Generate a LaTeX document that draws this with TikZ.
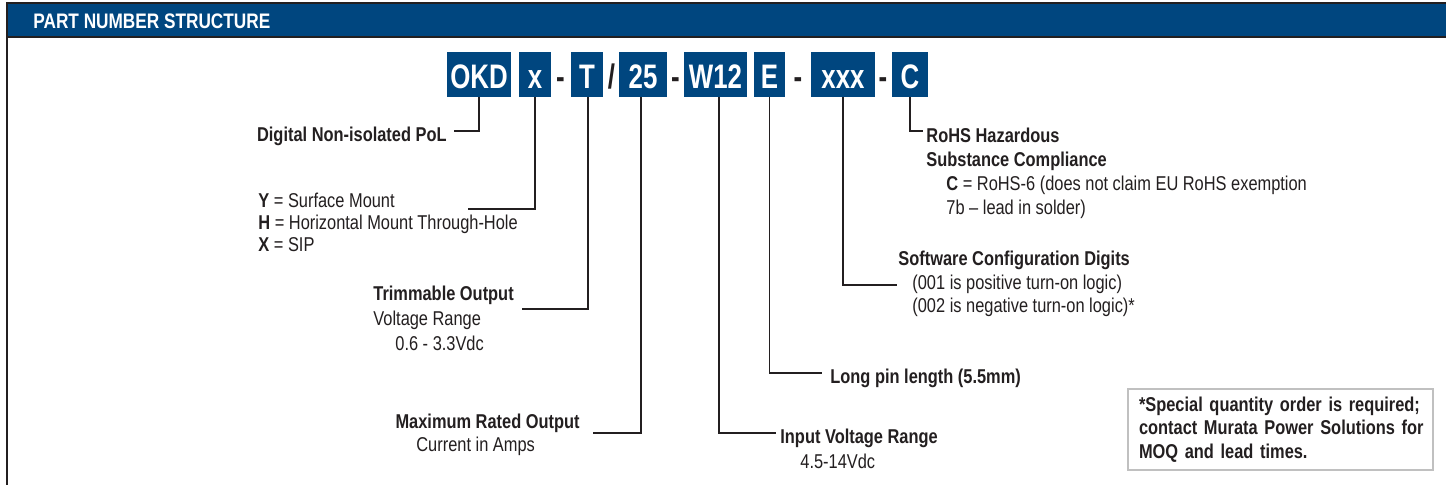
\documentclass[tikz,border=0pt]{standalone}
\usepackage{fontspec}
\setmainfont[FakeStretch=0.82]{Liberation Sans}
\newfontfamily\boxfont[FakeStretch=0.76]{Liberation Sans}
\definecolor{mblue}{RGB}{0,70,127}
\definecolor{ink}{RGB}{35,31,32}
\definecolor{notegray}{RGB}{192,192,192}
\hbadness=10000
\hfuzz=50pt
\begin{document}
\begin{tikzpicture}[x=0.5pt,y=-0.5pt,
  pbox/.style={fill=mblue,text=white,font=\boxfont\bfseries\fontsize{17}{17}\selectfont,
    inner sep=0pt,minimum height=22.5pt,text height=14pt,text depth=0pt},
  sepch/.style={text=ink,font=\boxfont\bfseries\fontsize{17}{17}\selectfont,
    inner sep=0pt,text height=14pt,text depth=0pt},
  lbl/.style={text=ink,font=\fontsize{10}{12}\selectfont,inner sep=0pt,
    text height=7.2pt,text depth=0pt,anchor=west},
  blbl/.style={lbl,font=\bfseries\fontsize{10}{12}\selectfont},
  thickc/.style={draw=ink,line width=1pt},
  thinc/.style={draw=ink,line width=0.55pt},
  framel/.style={draw=ink,line width=1pt},
]
\useasboundingbox (0,0) rectangle (1446,485);
\fill[white] (0,0) rectangle (1446,485);
% header band and frame
\fill[mblue] (7,3) rectangle (1446,37);
\draw[framel] (1446,3) -- (7,3) -- (7,485);
\draw[framel] (7,37) -- (1446,37);
\node[text=white,font=\bfseries\fontsize{10.5}{12}\selectfont,anchor=west,inner sep=0pt,
  text height=7.5pt,text depth=0pt] (hdr) at (33,21.5) {PART NUMBER STRUCTURE};

% part number boxes
\node[pbox,minimum width=32pt]   (okd) at (479,74.5)   {OKD};
\node[pbox,minimum width=16pt]   (xb)  at (535,74.5)   {x};
\node[sepch]                     (s1)  at (560.5,74.5) {-};
\node[pbox,minimum width=16pt]   (tb)  at (587,74.5)   {T};
\node[sepch]                     (s2)  at (611.5,74.5) {/};
\node[pbox,minimum width=24pt]   (b25) at (643,74.5)   {25};
\node[sepch]                     (s3)  at (675.5,74.5) {-};
\node[pbox,minimum width=31.5pt] (w12) at (715.5,74.5) {W12};
\node[pbox,minimum width=15.5pt] (eb)  at (769.5,74.5) {E};
\node[sepch]                     (s4)  at (798,74.5)   {-};
\node[pbox,minimum width=32pt]   (xxx) at (843,74.5)   {xxx};
\node[sepch]                     (s5)  at (883,74.5)   {-};
\node[pbox,minimum width=18pt]   (cb)  at (910,74.5)   {C};

% connector ends
\coordinate (e1) at (454,131);
\coordinate (e2) at (468,209);
\coordinate (e3) at (522,309);
\coordinate (e4) at (593,433);
\coordinate (e5) at (776,433);
\coordinate (e6) at (822,373);
\coordinate (e7) at (897,285);
\coordinate (e8) at (923,131);

\draw[thickc] (okd.south) |- (e1);
\draw[thickc] (xb.south) |- (e2);
\draw[thickc] ([xshift=0.5pt]tb.south) |- (e3);
\draw[thinc] ([xshift=-1pt]b25.south) |- (e4);
\draw[thinc] ([xshift=1.75pt]w12.south) |- (e5);
\draw[thinc] (eb.south) |- (e6);
\draw[thinc] (xxx.south) |- (e7);
\draw[thinc] (cb.south) |- (e8);

% labels
\node[blbl,anchor=east] (l1) at (447,134) {Digital Non-isolated PoL};

\node[lbl] (l2a) at (258,200) {\textbf{Y} = Surface Mount};
\node[lbl] (l2b) at (258,222) {\textbf{H} = Horizontal Mount Through-Hole};
\node[lbl] (l2c) at (258,244) {\textbf{X} = SIP};

\node[blbl] (l3a) at (373,293) {Trimmable Output};
\node[lbl]  (l3b) at (373,318) {Voltage Range};
\node[lbl]  (l3c) at (395,343) {0.6 - 3.3Vdc};

\node[blbl,anchor=east] (l4a) at (580,421) {Maximum Rated Output};
\node[lbl]  (l4b) at (416,444) {Current in Amps};

\node[blbl] (l5a) at (780,436) {Input Voltage Range};
\node[lbl]  (l5b) at (800,461) {4.5-14Vdc};

\node[blbl] (l6) at (830,376) {Long pin length (5.5mm)};

\node[blbl] (l7a) at (898,258) {Software Configuration Digits};
\node[lbl]  (l7b) at (912,282) {(001 is positive turn-on logic)};
\node[lbl]  (l7c) at (912,305) {(002 is negative turn-on logic)*};

\node[blbl] (l8a) at (926,135) {RoHS Hazardous};
\node[blbl] (l8b) at (926,159) {Substance Compliance};
\node[lbl]  (l8c) at (946,183) {\textbf{C} = RoHS-6 (does not claim EU RoHS exemption};
\node[lbl]  (l8d) at (946,207) {7b – lead in solder)};

% note
\node[draw=notegray,line width=1pt,inner xsep=5.5pt,inner ysep=0pt,
  minimum height=40.5pt,text width=141.5pt,align=left,text=ink,
  font=\bfseries\fontsize{10}{11.75}\selectfont] (note) at (1280.5,429.5)
  {\mbox{*Special quantity order is required;}\\\mbox{contact Murata Power Solutions for}\\\mbox{MOQ and lead times.}};
\end{tikzpicture}
\end{document}
